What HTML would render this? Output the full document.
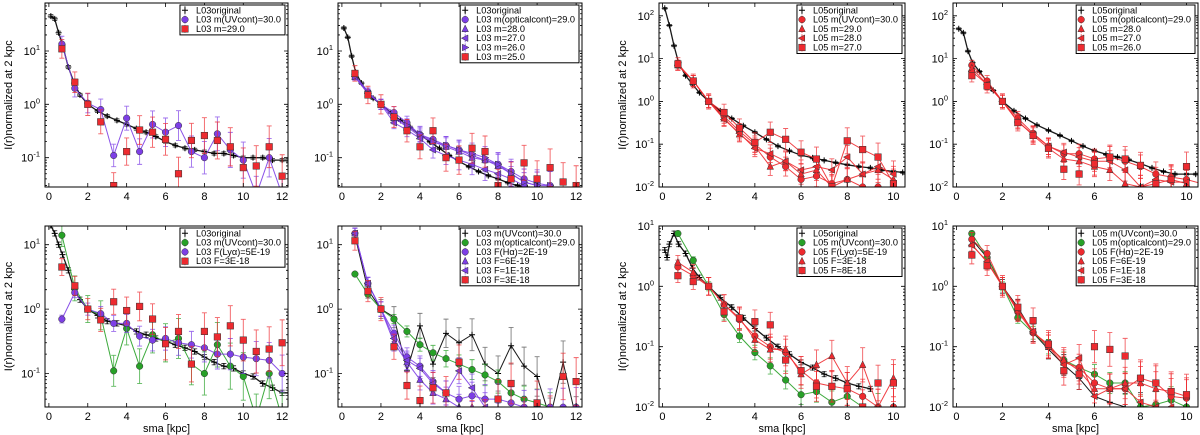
<!DOCTYPE html>
<html><head><meta charset="utf-8">
<style>
html,body{margin:0;padding:0;background:#fff;}
svg{display:block;font-family:"Liberation Sans","DejaVu Sans",sans-serif;}
</style></head>
<body>
<svg id="fig" width="1200" height="435" viewBox="0 0 1200 435"></svg>
<script>
// ---------- data ----------
const SX = [0.667,1.333,2,2.667,3.333,4,4.667,5.333,6,6.667,7.333,8,8.667,9.333,10,10.667,11.333,12];
// Panel 1 (L03, top-left)
const p1OrigX = [0.1,0.3,0.5,0.7,1,1.3,1.6,2,2.5,3,3.5,4,4.5,5,5.5,6,6.5,7,7.5,8,8.5,9,9.5,10,10.5,11,11.5,12,12.3];
const p1OrigY = [45,40,22,13,5,2.5,1.5,1.0,0.75,0.6,0.5,0.42,0.35,0.3,0.25,0.2,0.17,0.15,0.14,0.13,0.12,0.12,0.11,0.1,0.1,0.1,0.09,0.09,0.09];
const p1UV = [13.5,2,1.05,0.8,0.11,0.55,0.13,0.42,0.3,0.4,0.13,0.1,0.28,0.14,0.09,0.02,0.1,0.02];
const p1M29 = [11,2.6,1.0,0.47,0.03,0.13,0.33,0.3,0.22,0.05,0.21,0.26,0.21,0.16,0.065,0.07,0.16,0.045];
// Panel 2
const p2OrigX = [0.1,0.3,0.5,0.7,1,1.3,1.6,2,2.5,3,3.5,4,4.5,5,5.5,6,6.5,7,7.5,8,8.5,9,9.5];
const p2OrigY = [27,18,8,4,2.5,1.7,1.3,1.0,0.7,0.5,0.37,0.27,0.2,0.15,0.11,0.085,0.068,0.055,0.046,0.04,0.034,0.03,0.027];
const p2M29 = [3.6,1.7,1.0,0.7,0.45,0.27,0.22,0.17,0.14,0.11,0.09,0.075,0.055,0.04,0.033,0.03];
const p2M28 = [3.3,1.6,1.0,0.55,0.38,0.25,0.2,0.16,0.13,0.1,0.09,0.07,0.05,0.035,0.03];
const p2M27 = [3.3,1.6,1.0,0.45,0.33,0.23,0.14,0.11,0.09,0.075,0.06,0.05,0.04,0.03];
const p2M26 = [3.3,1.6,1.0,0.6,0.4,0.28,0.2,0.17,0.14,0.12,0.1,0.075,0.05,0.035,0.03,0.03];
const p2M25 = [3.8,1.5,1.0,0.58,0.32,0.16,0.32,0.1,0.09,0.15,0.13,0.03,0.04,0.08,0.04,0.065,0.035,0.03];
// Panel 3
const p3OrigX = [0.1,0.3,0.5,0.7,1,1.3,1.6,2,2.5,3,3.5,4,4.5,5,5.5,6,6.5,7,7.5,8,8.5,9,9.5,10,10.4];
const p3OrigY = [150,60,20,8,4,2.5,1.6,1.0,0.6,0.4,0.27,0.19,0.13,0.09,0.07,0.055,0.048,0.042,0.037,0.033,0.03,0.028,0.025,0.023,0.022];
const p3M30 = [7,3,1,0.45,0.2,0.1,0.05,0.03,0.015,0.018,0.012,0.015,0.01,0.01,0.01];
const p3M29 = [7,3,1,0.4,0.17,0.09,0.03,0.04,0.02,0.025,0.01,0.015,0.02,0.025,0.015];
const p3M28 = [7,3,1,0.38,0.18,0.08,0.06,0.04,0.025,0.03,0.025,0.05,0.02,0.03,0.02];
const p3M27 = [7.5,3,1,0.55,0.24,0.11,0.19,0.13,0.065,0.045,0.01,0.12,0.075,0.05,0.012];
// Panel 4
const p4OrigX = [0.1,0.3,0.5,0.7,1,1.3,1.6,2,2.5,3,3.5,4,4.5,5,5.5,6,6.5,7,7.5,8,8.5,9,9.5,10,10.4];
const p4OrigY = [50,40,15,8,5,3,1.8,1.0,0.6,0.4,0.28,0.21,0.16,0.12,0.09,0.07,0.058,0.05,0.043,0.035,0.028,0.023,0.02,0.02,0.02];
const p4M29 = [7,3,1,0.4,0.18,0.09,0.06,0.06,0.045,0.05,0.04,0.03,0.02,0.017,0.015,0.012];
const p4M28 = [6,2.5,1,0.35,0.16,0.08,0.045,0.04,0.03,0.025,0.012,0.01,0.012,0.015,0.012];
const p4M27 = [5,2.5,1,0.33,0.17,0.09,0.065,0.05,0.04,0.04,0.025,0.01,0.015,0.013,0.013];
const p4M26 = [4,2.3,1,0.32,0.16,0.08,0.026,0.02,0.035,0.05,0.045,0.032,0.012,0.015,0.03];
// Panel 5
const p5OrigX = [0.1,0.3,0.5,0.7,1,1.3,1.6,2,2.5,3,3.5,4,4.5,5,5.5,6,6.5,7,7.5,8,8.5,9,9.5,10,10.5,11,11.5,12,12.3];
const p5OrigY = [20,15,10,7,4,2,1.4,1.0,0.8,0.65,0.6,0.55,0.45,0.4,0.35,0.32,0.28,0.25,0.22,0.18,0.15,0.13,0.12,0.1,0.09,0.07,0.06,0.05,0.05];
const p5UV = [14,2.1,1.0,0.8,0.11,0.5,0.13,0.4,0.3,0.35,0.14,0.1,0.28,0.13,0.09,0.02,0.1,0.02];
const p5Lya = [0.7,1.8,1.0,0.85,0.6,0.6,0.38,0.33,0.35,0.3,0.28,0.25,0.2,0.2,0.18,0.17,0.16,0.1];
const p5F3 = [4.5,2.3,1.0,0.68,1.3,0.95,1.1,0.7,0.29,0.45,0.14,0.45,0.37,0.55,0.33,0.22,0.24,0.3];
// Panel 6
const p6UV = [14,2,1.0,0.75,0.11,0.55,0.14,0.42,0.3,0.4,0.14,0.1,0.27,0.13,0.09,0.02,0.15,0.02];
const p6Opt = [3.5,1.7,1.0,0.7,0.45,0.28,0.21,0.17,0.14,0.115,0.095,0.075,0.05,0.04,0.035,0.03];
const p6Ha = [15,2.5,1.0,0.42,0.18,0.13,0.075,0.05,0.04,0.045,0.04,0.04,0.035,0.03,0.03,0.03,0.03,0.03];
const p6F6 = [15,2.5,1.0,0.3,0.15,0.08,0.05,0.04,0.03,0.03,0.025,0.02,0.02,0.02];
const p6F1 = [15,2.5,1.0,0.35,0.16,0.12,0.07,0.05,0.11,0.06,0.03,0.025,0.02];
const p6F3 = [11.5,1.9,1.0,0.26,0.065,0.038,0.06,0.05,0.15,0.02,0.02,0.04,0.07,0.02,0.035,0.02,0.09,0.075];
// Panel 7
const p7OrigX = [0.1,0.2,0.3,0.5,0.7,1,1.3,1.6,2,2.5,3,3.5,4,4.5,5,5.5,6,6.5,7,7.5,8,8.5,9];
const p7OrigY = [4,3,5,7.5,5,3.5,2,1.4,1.0,0.65,0.45,0.3,0.2,0.14,0.1,0.075,0.055,0.045,0.035,0.03,0.025,0.022,0.02];
const p7UV = [7.5,2.7,1.0,0.34,0.15,0.08,0.048,0.028,0.016,0.018,0.012,0.015,0.01,0.01];
const p7Lya = [2.1,1.5,1.0,0.5,0.28,0.15,0.1,0.08,0.04,0.025,0.022,0.02,0.015,0.01,0.01];
const p7F3 = [2.5,1.7,1.0,0.5,0.3,0.13,0.09,0.09,0.035,0.05,0.07,0.025,0.05,0.01,0.03];
const p7F8 = [1.5,1.2,1.0,0.38,0.3,0.26,0.23,0.06,0.04,0.022,0.022,0.02,0.01,0.025,0.025];
// Panel 8
const p8UV = [6,3,1,0.45,0.17,0.09,0.05,0.03,0.015,0.012,0.01,0.01,0.005];
const p8Opt = [7.5,3,1.0,0.3,0.17,0.1,0.06,0.045,0.035,0.025,0.025,0.01,0.011,0.013,0.01];
const p8Ha = [6,3.5,1,0.38,0.17,0.11,0.055,0.045,0.025,0.02,0.02,0.03,0.025,0.015,0.014];
const p8F6 = [5,2.5,1,0.4,0.18,0.1,0.06,0.04,0.02,0.02,0.025,0.025,0.02,0.018,0.015];
const p8F1 = [4.8,2.6,1,0.42,0.18,0.1,0.05,0.065,0.015,0.02,0.02,0.012,0.01,0.01];
const p8F3 = [3.3,2.2,1,0.45,0.27,0.11,0.04,0.035,0.1,0.09,0.07,0.03,0.025,0.018,0.016];

const xTicksA = [0,2,4,6,8,10,12];
const xTicksB = [0,2,4,6,8,10];

// ---------- rendering ----------
const NS = "http://www.w3.org/2000/svg";
const fig = document.getElementById('fig');
const PUR = '#7d3fe6', RED = '#ee2a2f', GRN = '#27a127', BLK = '#000';
function el(tag, attrs, parent) {
  const e = document.createElementNS(NS, tag);
  for (const k in attrs) e.setAttribute(k, attrs[k]);
  (parent || fig).appendChild(e);
  return e;
}

const panels = [
  {id:1,x0:45,x1:288,y0:3,y1:187,xmin:-0.2,xmax:12.3,ymin:-1.55,ymax:1.9,xt:xTicksA,ylab:true,xlab:false},
  {id:2,x0:338,x1:582,y0:3,y1:187,xmin:-0.2,xmax:12.3,ymin:-1.55,ymax:1.9,xt:xTicksA,ylab:false,xlab:false},
  {id:3,x0:659,x1:905,y0:3,y1:187,xmin:-0.15,xmax:10.5,ymin:-2,ymax:2.3,xt:xTicksB,ylab:true,xlab:false},
  {id:4,x0:953,x1:1198,y0:3,y1:187,xmin:-0.15,xmax:10.5,ymin:-2,ymax:2.3,xt:xTicksB,ylab:false,xlab:false},
  {id:5,x0:45,x1:288,y0:226,y1:407,xmin:-0.2,xmax:12.3,ymin:-1.52,ymax:1.29,xt:xTicksA,ylab:true,xlab:true},
  {id:6,x0:338,x1:582,y0:226,y1:407,xmin:-0.2,xmax:12.3,ymin:-1.52,ymax:1.29,xt:xTicksA,ylab:false,xlab:true},
  {id:7,x0:659,x1:905,y0:226,y1:407,xmin:-0.15,xmax:10.5,ymin:-2,ymax:1,xt:xTicksB,ylab:true,xlab:true},
  {id:8,x0:953,x1:1198,y0:226,y1:407,xmin:-0.15,xmax:10.5,ymin:-2,ymax:1,xt:xTicksB,ylab:false,xlab:true}
];

function sx(p, v){ return p.x0 + (v - p.xmin) / (p.xmax - p.xmin) * (p.x1 - p.x0); }
function sy(p, v){ const l = Math.log10(Math.max(v, 1e-6)); return p.y1 - (l - p.ymin) / (p.ymax - p.ymin) * (p.y1 - p.y0); }

function marker(g, shape, x, y, color) {
  const s = 3.3;
  let m;
  if (shape === 'circle') m = el('circle', {cx:x, cy:y, r:s, fill:color, stroke:'#333', 'stroke-width':0.5}, g);
  else if (shape === 'square') m = el('rect', {x:x-s, y:y-s, width:2*s, height:2*s, fill:color, stroke:'#333', 'stroke-width':0.5}, g);
  else if (shape === 'tri') m = el('polygon', {points:`${x},${y-s-0.5} ${x-s},${y+s-0.5} ${x+s},${y+s-0.5}`, fill:color, stroke:'#333', 'stroke-width':0.5}, g);
  else if (shape === 'left') m = el('polygon', {points:`${x-s-0.5},${y} ${x+s-0.5},${y-s} ${x+s-0.5},${y+s}`, fill:color, stroke:'#333', 'stroke-width':0.5}, g);
  else if (shape === 'right') m = el('polygon', {points:`${x+s+0.5},${y} ${x-s+0.5},${y-s} ${x-s+0.5},${y+s}`, fill:color, stroke:'#333', 'stroke-width':0.5}, g);
  else m = el('path', {d:`M${x-3},${y}H${x+3}M${x},${y-3}V${y+3}`, stroke:color, 'stroke-width':1}, g);
  return m;
}

function series(p, g, xs, ys, o) {
  const sg = el('g', {}, g);
  
  
  const n = Math.min(xs.length, ys.length);
  if (o.line !== false) {
    let d = '';
    for (let i = 0; i < n; i++) d += (i ? 'L' : 'M') + sx(p, xs[i]).toFixed(1) + ',' + sy(p, ys[i]).toFixed(1);
    const ln = el('path', {d, fill:'none', stroke:o.color, 'stroke-width':o.lw || 1, opacity:0.9}, sg);
    
    
  }
  for (let i = 0; i < n; i++) {
    const X = sx(p, xs[i]), Y = sy(p, ys[i]);
    if (o.err) {
      const f = o.fixed ? o.err : o.err * (1 + i * 0.04);
      const ya = sy(p, ys[i] * f), yb = sy(p, ys[i] / f);
      el('path', {d:`M${X},${ya}V${yb}M${X-2.5},${ya}H${X+2.5}M${X-2.5},${yb}H${X+2.5}`, stroke:o.ecolor || o.color, 'stroke-width':0.9, opacity:0.75}, sg);
    }
    const m = marker(sg, o.marker, X, Y, o.color);
    
    
  }
}

function legend(p, entries) {
  const lg = el('g', {}, fig);
  
  
  const rowH = 9.3, top = p.y0 + 2;
  const rect = el('rect', {x:0, y:top, width:10, height:entries.length*rowH+2, fill:'#fff', stroke:'#000', 'stroke-width':1}, lg);
  let maxW = 0;
  const texts = [];
  entries.forEach((e, i) => {
    const t = el('text', {y: top + 8.3 + i*rowH, 'font-size':9.2, fill:'#000'}, lg);
    t.innerHTML = e.label;
    
    
    texts.push(t);
    maxW = Math.max(maxW, t.getComputedTextLength());
  });
  const w = maxW + 20, x = p.x1 - 3 - w;
  rect.setAttribute('x', x); rect.setAttribute('width', w);
  texts.forEach((t, i) => {
    t.setAttribute('x', x + 16);
    const cy = top + 5.3 + i*rowH;
    el('path', {d:`M${x+5},${cy-4}V${cy+4}`, stroke:entries[i].color, 'stroke-width':0.8}, lg);
    marker(lg, entries[i].marker, x + 5, cy, entries[i].color);
  });
}

function axes(p) {
  const g = el('g', {}, fig);
  
  
  const clip = el('clipPath', {id:'c' + p.id}, g);
  el('rect', {x:p.x0, y:p.y0, width:p.x1-p.x0, height:p.y1-p.y0}, clip);
  const plot = el('g', {'clip-path':`url(#c${p.id})`}, g);
  const tk = el('g', {stroke:'#000', 'stroke-width':0.8}, g);
  p.xt.forEach(v => {
    const X = sx(p, v);
    el('path', {d:`M${X},${p.y1}v-4M${X},${p.y0}v4`}, tk);
    const t = el('text', {x:X, y:p.y1 + 13, 'font-size':11, 'text-anchor':'middle', fill:'#000', stroke:'none'}, g);
    t.textContent = v;
    
    
  });
  for (let d = Math.floor(p.ymin); d <= Math.ceil(p.ymax); d++) {
    for (let k = 1; k < 10; k++) {
      const v = Math.pow(10, d) * k, l = Math.log10(v);
      if (l < p.ymin - 1e-6 || l > p.ymax + 1e-6) continue;
      const Y = sy(p, v), len = k === 1 ? 4 : 2;
      el('path', {d:`M${p.x0},${Y}h${len}M${p.x1},${Y}h-${len}`}, tk);
      if (k === 1) {
        const t = el('text', {x:p.x0 - 5, y:Y + 4, 'font-size':11, 'text-anchor':'end', fill:'#000', stroke:'none'}, g);
        t.innerHTML = `10<tspan font-size="7.5" dy="-5">${d}</tspan>`;
        
        
      }
    }
  }
  if (p.ylab) {
    const cy = (p.y0 + p.y1) / 2, cx = p.x0 - 33;
    const t = el('text', {x:cx, y:cy, 'font-size':11, 'text-anchor':'middle', transform:`rotate(-90 ${cx} ${cy})`, fill:'#000'}, g);
    t.textContent = 'I(r)normalized at 2 kpc';
    
    
  }
  if (p.xlab) {
    const t = el('text', {x:(p.x0 + p.x1)/2, y:p.y1 + 25, 'font-size':11, 'text-anchor':'middle', fill:'#000'}, g);
    t.textContent = 'sma [kpc]';
    
    
  }
  return {g, plot};
}
function frame(p) {
  const r = el('rect', {x:p.x0, y:p.y0, width:p.x1-p.x0, height:p.y1-p.y0, fill:'none', stroke:'#000', 'stroke-width':1}, fig);
  
  
}

const defs = [
  {p:0, legend:[['L03original',BLK,'plus'],['L03 m(UVcont)=30.0',PUR,'circle'],['L03 m=29.0',RED,'square']],
   s:[[p1OrigX,p1OrigY,{name:'l03-original',color:BLK,marker:'plus',err:1.07,fixed:true,lw:1.3}],
      [SX,p1UV,{name:'l03-uvcont-30',color:PUR,marker:'circle',err:1.4}],
      [SX,p1M29,{name:'l03-m29',color:RED,marker:'square',err:1.5,line:false}]]},
  {p:1, legend:[['L03original',BLK,'plus'],['L03 m(opticalcont)=29.0',PUR,'circle'],['L03 m=28.0',PUR,'tri'],['L03 m=27.0',PUR,'left'],['L03 m=26.0',PUR,'right'],['L03 m=25.0',RED,'square']],
   s:[[p2OrigX,p2OrigY,{name:'l03-original',color:BLK,marker:'plus',err:1.05,fixed:true,lw:1.3}],
      [SX,p2M29,{name:'l03-m29',color:PUR,marker:'circle',err:1.15}],
      [SX,p2M28,{name:'l03-m28',color:PUR,marker:'tri',err:1.15}],
      [SX,p2M27,{name:'l03-m27',color:PUR,marker:'left',err:1.15}],
      [SX,p2M26,{name:'l03-m26',color:PUR,marker:'right',err:1.15}],
      [SX,p2M25,{name:'l03-m25',color:RED,marker:'square',err:1.4,line:false}]]},
  {p:2, legend:[['L05original',BLK,'plus'],['L05 m(UVcont)=30.0',RED,'circle'],['L05 m=29.0',RED,'tri'],['L05 m=28.0',RED,'left'],['L05 m=27.0',RED,'square']],
   s:[[p3OrigX,p3OrigY,{name:'l05-original',color:BLK,marker:'plus',err:1.05,fixed:true,lw:1.3}],
      [SX,p3M30,{name:'l05-uvcont-30',color:RED,marker:'circle',err:1.3}],
      [SX,p3M29,{name:'l05-m29',color:RED,marker:'tri',err:1.3}],
      [SX,p3M28,{name:'l05-m28',color:RED,marker:'left',err:1.3}],
      [SX,p3M27,{name:'l05-m27',color:RED,marker:'square',err:1.4}]]},
  {p:3, legend:[['L05original',BLK,'plus'],['L05 m(opticalcont)=29.0',RED,'circle'],['L05 m=28.0',RED,'tri'],['L05 m=27.0',RED,'left'],['L05 m=26.0',RED,'square']],
   s:[[p4OrigX,p4OrigY,{name:'l05-original',color:BLK,marker:'plus',err:1.05,fixed:true,lw:1.3}],
      [SX,p4M29,{name:'l05-opt-29',color:RED,marker:'circle',err:1.3}],
      [SX,p4M28,{name:'l05-m28',color:RED,marker:'tri',err:1.3}],
      [SX,p4M27,{name:'l05-m27',color:RED,marker:'left',err:1.3}],
      [SX,p4M26,{name:'l05-m26',color:RED,marker:'square',err:1.4,line:false}]]},
  {p:4, legend:[['L03original',BLK,'plus'],['L03 m(UVcont)=30.0',GRN,'circle'],['L03 F(Ly&#945;)=5E-19',PUR,'circle'],['L03 F=3E-18',RED,'square']],
   s:[[p5OrigX,p5OrigY,{name:'l03-original',color:BLK,marker:'plus',err:1.1,fixed:true,lw:1.3}],
      [SX,p5UV,{name:'l03-uvcont-30',color:GRN,marker:'circle',err:1.5}],
      [SX,p5Lya,{name:'l03-lya',color:PUR,marker:'circle',err:1.15}],
      [SX,p5F3,{name:'l03-f3e-18',color:RED,marker:'square',err:1.35,line:false}]]},
  {p:5, legend:[['L03 m(UVcont)=30.0',BLK,'plus'],['L03 m(opticalcont)=29.0',GRN,'circle'],['L03 F(H&#945;)=2E-19',PUR,'circle'],['L03 F=6E-19',PUR,'tri'],['L03 F=1E-18',PUR,'left'],['L03 F=3E-18',RED,'square']],
   s:[[SX,p6UV,{name:'l03-uvcont-30',color:BLK,marker:'plus',err:1.3,ecolor:'#555'}],
      [SX,p6Opt,{name:'l03-opt-29',color:GRN,marker:'circle',err:1.05}],
      [SX,p6Ha,{name:'l03-ha',color:PUR,marker:'circle',err:1.2}],
      [SX,p6F6,{name:'l03-f6e-19',color:PUR,marker:'tri',err:1.2}],
      [SX,p6F1,{name:'l03-f1e-18',color:PUR,marker:'left',err:1.2}],
      [SX,p6F3,{name:'l03-f3e-18',color:RED,marker:'square',err:1.4,line:false}]]},
  {p:6, legend:[['L05original',BLK,'plus'],['L05 m(UVcont)=30.0',GRN,'circle'],['L05 F(Ly&#945;)=5E-19',RED,'circle'],['L05 F=3E-18',RED,'tri'],['L05 F=8E-18',RED,'square']],
   s:[[p7OrigX,p7OrigY,{name:'l05-original',color:BLK,marker:'plus',err:1.1,fixed:true,lw:1.3}],
      [SX,p7UV,{name:'l05-uvcont-30',color:GRN,marker:'circle',err:1.1}],
      [SX,p7Lya,{name:'l05-lya',color:RED,marker:'circle',err:1.3}],
      [SX,p7F3,{name:'l05-f3e-18',color:RED,marker:'tri',err:1.3}],
      [SX,p7F8,{name:'l05-f8e-18',color:RED,marker:'square',err:1.3,line:false}]]},
  {p:7, legend:[['L05 m(UVcont)=30.0',BLK,'plus'],['L05 m(opticalcont)=29.0',GRN,'circle'],['L05 F(H&#945;)=2E-19',RED,'circle'],['L05 F=6E-19',RED,'tri'],['L05 F=1E-18',RED,'left'],['L05 F=3E-18',RED,'square']],
   s:[[SX,p8UV,{name:'l05-uvcont-30',color:BLK,marker:'plus',err:1.2}],
      [SX,p8Opt,{name:'l05-opt-29',color:GRN,marker:'circle',err:1.1}],
      [SX,p8Ha,{name:'l05-ha',color:RED,marker:'circle',err:1.3}],
      [SX,p8F6,{name:'l05-f6e-19',color:RED,marker:'tri',err:1.3}],
      [SX,p8F1,{name:'l05-f1e-18',color:RED,marker:'left',err:1.3}],
      [SX,p8F3,{name:'l05-f3e-18',color:RED,marker:'square',err:1.4,line:false}]]}
];

defs.forEach(d => {
  const p = panels[d.p];
  const a = axes(p);
  d.s.forEach(s => series(p, a.plot, s[0], s[1], s[2]));
  frame(p);
  legend(p, d.legend.map(e => ({label:e[0], color:e[1], marker:e[2]})));
});
</script>
</body></html>
